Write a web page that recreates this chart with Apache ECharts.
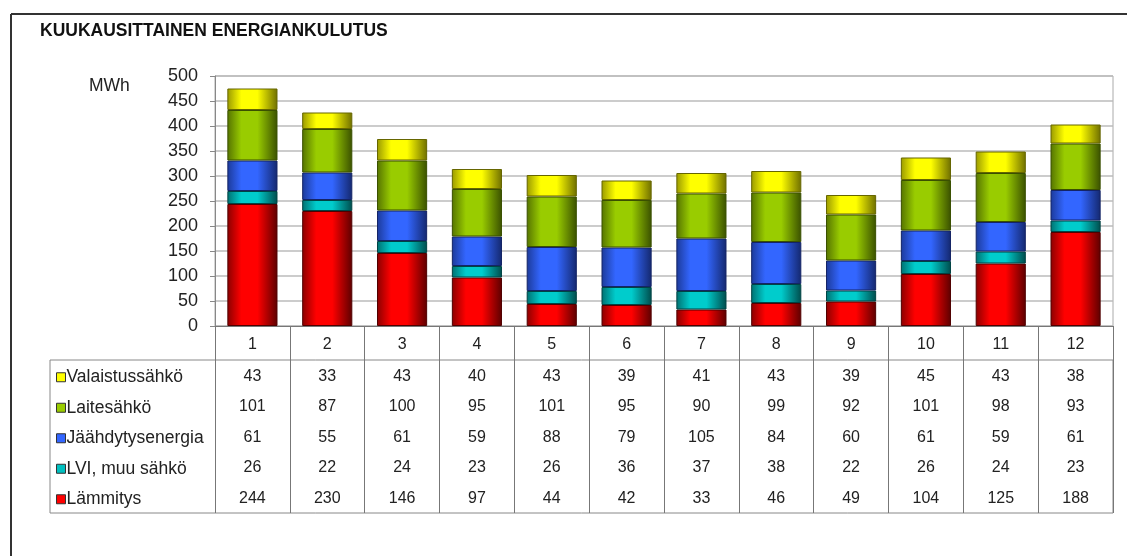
<!DOCTYPE html>
<html>
<head>
<meta charset="utf-8">
<script src="https://cdn.jsdelivr.net/npm/echarts@6/dist/echarts.min.js"></script>
<style>
    html, body { margin: 0; padding: 0; background: #fff; }
    #chart { width: 1127px; height: 556px; }
</style>
</head>
<body>
<div id="chart"></div>
<script>
// kuukaudet ja kulutus (MWh)
var months = ['1', '2', '3', '4', '5', '6', '7', '8', '9', '10', '11', '12'];
var lammitys = [244, 230, 146, 97, 44, 42, 33, 46, 49, 104, 125, 188];
var lvi = [26, 22, 24, 23, 26, 36, 37, 38, 22, 26, 24, 23];
var jaahdytys = [61, 55, 61, 59, 88, 79, 105, 84, 60, 61, 59, 61];
var laite = [101, 87, 100, 95, 101, 95, 90, 99, 92, 101, 98, 93];
var valaistus = [43, 33, 43, 40, 43, 39, 41, 43, 39, 45, 43, 38];

var names = ['Valaistussähkö', 'Laitesähkö', 'Jäähdytysenergia', 'LVI, muu sähkö', 'Lämmitys'];
var rows = [valaistus, laite, jaahdytys, lvi, lammitys];

var font = 'Liberation Sans, Arial, sans-serif';

function grad(dark, bright, dark2) {
    return new echarts.graphic.LinearGradient(0, 0, 1, 0, [
        { offset: 0, color: dark },
        { offset: 0.28, color: bright },
        { offset: 0.6, color: bright },
        { offset: 1, color: dark2 }
    ]);
}

var colors = {
    'Lämmitys': ['#8a0000', '#ff0000', '#5c0000', '#ff0000', '#500000'],
    'LVI, muu sähkö': ['#007070', '#00cccc', '#004c4c', '#00c0c0', '#004444'],
    'Jäähdytysenergia': ['#1c3a99', '#3366ff', '#14286e', '#3366ff', '#142466'],
    'Laitesähkö': ['#557300', '#99cc00', '#3a5000', '#99cc00', '#3a5000'],
    'Valaistussähkö': ['#999900', '#ffff00', '#6e6e00', '#ffff00', '#666600']
};

var stackOrder = [
    ['Lämmitys', lammitys],
    ['LVI, muu sähkö', lvi],
    ['Jäähdytysenergia', jaahdytys],
    ['Laitesähkö', laite],
    ['Valaistussähkö', valaistus]
];

var series = stackOrder.map(function (s) {
    var c = colors[s[0]];
    return {
        name: s[0],
        type: 'bar',
        stack: 'total',
        barWidth: '67%',
        data: s[1],
        itemStyle: {
            color: grad(c[0], c[1], c[2]),
            borderColor: c[4],
            borderWidth: 1
        }
    };
});

var chart = echarts.init(document.getElementById('chart'));
var option = {
    animation: false,
    title: [
        {
            text: 'KUUKAUSITTAINEN ENERGIANKULUTUS',
            left: 35, top: 17,
            textStyle: { fontFamily: font, fontSize: 17.5, fontWeight: 'bold', color: '#111' }
        },
        {
            text: 'MWh',
            left: 84, top: 72,
            textStyle: { fontFamily: font, fontSize: 17.5, fontWeight: 'normal', color: '#222' }
        }
    ],
    legend: {
        orient: 'vertical',
        left: 51, top: 357,
        itemWidth: 9, itemHeight: 9,
        itemGap: 0,
        icon: 'rect',
        selectedMode: false,
        textStyle: { fontFamily: font, fontSize: 17.5, color: '#222', lineHeight: 30.5, padding: [0, 0, 0, -4] },
        data: names.map(function (n) {
            return { name: n, itemStyle: { color: colors[n][3], borderColor: '#333', borderWidth: 1 } };
        })
    },
    grid: {
        left: 215, right: 14, top: 76, bottom: 230,
        show: true, borderColor: '#aaa', borderWidth: 1
    },
    xAxis: {
        type: 'category',
        data: months,
        axisLine: { lineStyle: { color: '#777' } },
        axisTick: { show: true, length: 187, lineStyle: { color: '#777' } },
        axisLabel: {
            margin: 2,
            interval: 0,
            formatter: function (v, i) {
                var s = '{c|' + v + '}';
                rows.forEach(function (r) { s += '\n{v|' + r[i] + '}'; });
                return s;
            },
            rich: {
                c: { fontFamily: font, fontSize: 16, color: '#222', lineHeight: 33 },
                v: { fontFamily: font, fontSize: 16, color: '#222', lineHeight: 30.5 }
            }
        }
    },
    yAxis: {
        type: 'value',
        min: 0, max: 500, interval: 50,
        axisLine: { show: true, lineStyle: { color: '#888' } },
        axisTick: { show: true, length: 5, lineStyle: { color: '#888' } },
        axisLabel: { margin: 17, fontFamily: font, fontSize: 18, color: '#222' },
        splitLine: { lineStyle: { color: '#bbb', width: 1.5 } }
    },
    graphic: [
        { type: 'line', shape: { x1: 11, y1: 14, x2: 1127, y2: 14 }, style: { stroke: '#333', lineWidth: 2 } },
        { type: 'line', shape: { x1: 11, y1: 14, x2: 11, y2: 556 }, style: { stroke: '#333', lineWidth: 2 } },
        { type: 'rect', shape: { x: 50, y: 360, width: 1063, height: 153 }, style: { fill: 'none', stroke: '#888', lineWidth: 1 } }
    ],
    series: series
};
chart.setOption(option);
</script>
</body>
</html>
